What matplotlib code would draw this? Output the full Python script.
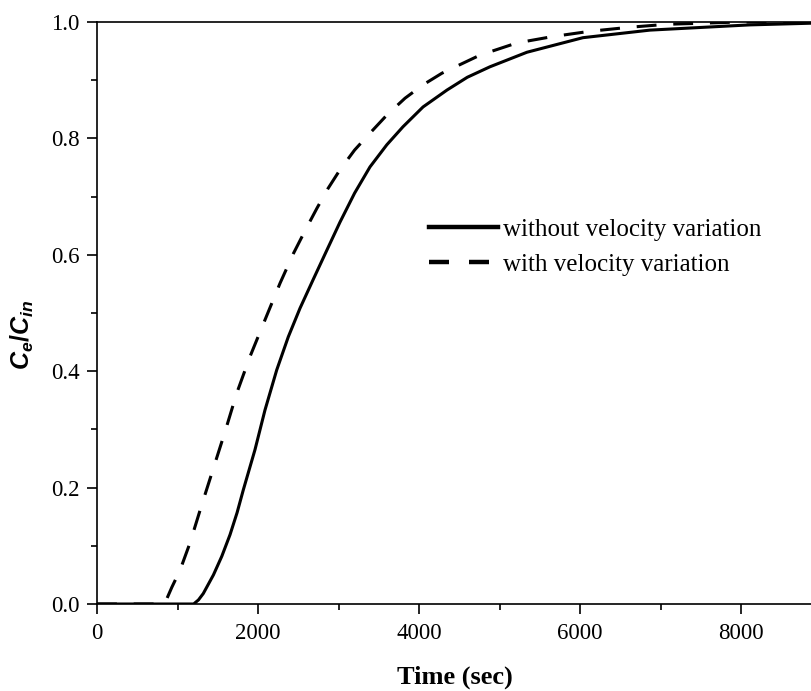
"""Breakthrough curves with and without velocity variation."""

import matplotlib

matplotlib.use("Agg")
import matplotlib.pyplot as plt
from matplotlib.lines import Line2D
from matplotlib.ticker import FormatStrFormatter, MultipleLocator

plt.rcParams["font.family"] = ["Liberation Serif", "DejaVu Serif"]
plt.rcParams["mathtext.fontset"] = "custom"
plt.rcParams["mathtext.it"] = "Liberation Sans:italic:bold"
plt.rcParams["mathtext.rm"] = "Liberation Sans:bold"

# Effluent concentration ratio vs time (sec)
time_without = [0, 1000, 1200, 1260, 1320, 1446, 1550, 1652, 1740, 1817,
                1962, 2086, 2232, 2376, 2521, 2687, 2852, 3018, 3200, 3391,
                3600, 3801, 4050, 4347, 4600, 4881, 5341, 6036, 6868, 8110,
                8900]
ratio_without = [0.0, 0.0, 0.0, 0.007, 0.018, 0.05, 0.082, 0.119, 0.157,
                 0.196, 0.265, 0.333, 0.402, 0.459, 0.508, 0.558, 0.607,
                 0.656, 0.706, 0.751, 0.789, 0.82, 0.854, 0.883, 0.905,
                 0.923, 0.948, 0.973, 0.986, 0.995, 0.998]

time_with = [0, 820, 870, 930, 1031, 1155, 1300, 1445, 1590, 1735, 1900,
             2086, 2273, 2439, 2590, 2732, 2870, 3018, 3200, 3391, 3600,
             3826, 4050, 4285, 4757, 5216, 5663, 6123, 6620, 7080, 8000,
             8900]
ratio_with = [0.0, 0.0, 0.01, 0.029, 0.058, 0.105, 0.17, 0.233, 0.296,
              0.362, 0.425, 0.488, 0.551, 0.602, 0.643, 0.68, 0.714, 0.746,
              0.78, 0.809, 0.84, 0.869, 0.892, 0.912, 0.943, 0.964, 0.975,
              0.984, 0.991, 0.996, 1.0, 1.0]

fig = plt.figure(figsize=(8.12, 6.91), dpi=100)
ax = fig.add_axes([0.1195, 0.1259, 0.8805, 0.8423])

ax.plot(time_without, ratio_without, color="black", lw=2.2)
ax.plot(time_with, ratio_with, color="black", lw=2.2, dashes=(6.5, 5.5))

ax.set_xlim(0, 8882)
ax.set_ylim(0, 1.0)
ax.xaxis.set_major_locator(MultipleLocator(2000))
ax.xaxis.set_minor_locator(MultipleLocator(1000))
ax.yaxis.set_major_locator(MultipleLocator(0.2))
ax.yaxis.set_minor_locator(MultipleLocator(0.1))
ax.yaxis.set_major_formatter(FormatStrFormatter("%.1f"))

for side in ("left", "bottom", "top"):
    ax.spines[side].set_linewidth(1.2)
ax.spines["right"].set_visible(False)

ax.tick_params(which="both", direction="out", width=1.2, labelsize=16.5,
               top=False, right=False)
ax.tick_params(which="major", length=7.5)
ax.tick_params(which="minor", length=4.5)
ax.tick_params(axis="x", pad=6)
ax.tick_params(axis="y", pad=5)

ax.set_xlabel("Time (sec)", fontsize=19, fontweight="bold")
ax.xaxis.set_label_coords(0.5, -0.106)
ax.set_ylabel("$C_e/C_{in}$", fontsize=18)
ax.yaxis.set_label_coords(-0.086, 0.462)

handles = [
    Line2D([], [], color="black", lw=3.2),
    Line2D([], [], color="black", lw=3.2, dashes=(4.5, 4.5)),
]
ax.legend(handles, ["without velocity variation", "with velocity variation"],
          loc="upper left", bbox_to_anchor=(0.45, 0.68), frameon=False,
          fontsize=18, handlelength=2.75, handletextpad=0.2,
          labelspacing=0.5, borderaxespad=0)

fig.savefig("out.png", dpi=100)
